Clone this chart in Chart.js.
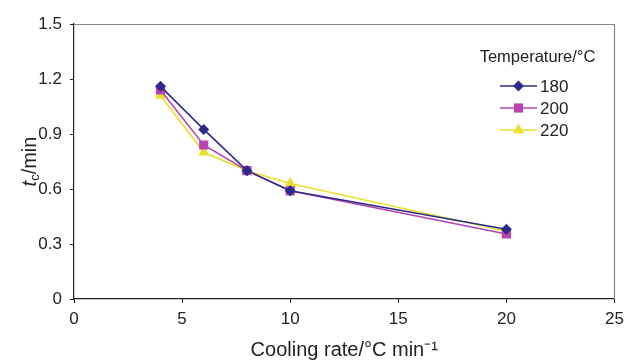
<!DOCTYPE html>
<html><head><meta charset="utf-8">
<script src="https://cdn.jsdelivr.net/npm/chart.js@4.4.1/dist/chart.umd.min.js"></script>
<style>html,body{margin:0;padding:0;background:#fff}#wrap{width:631px;height:362px}</style>
</head><body><div id="wrap"><canvas id="c" width="631" height="362"></canvas></div>
<script>
const coolingRates = [4, 6, 8, 10, 20];
const tc180 = [1.16, 0.925, 0.70, 0.59, 0.38];
const tc200 = [1.14, 0.84, 0.70, 0.59, 0.355];
const tc220 = [1.11, 0.80, 0.70, 0.63, 0.37];
const seriesLabels = ['180', '200', '220'];
const yTicks = [0, 0.3, 0.6, 0.9, 1.2, 1.5];
const xTicks = [0, 5, 10, 15, 20, 25];
const legendTitle = 'Temperature/°C';
const xTitle = 'Cooling rate/°C min⁻¹';

const FONT = '"Liberation Sans", Arial, sans-serif';
const colors = ['#2d2a8a', '#b843b0', '#e8e02a'];
const styles = ['rectRot', 'rect', 'triangle'];
const radii = [5.5, 6.5, 6.5];
const seriesData = [tc180, tc200, tc220];

const datasets = seriesData.map((arr, i) => ({
  label: seriesLabels[i],
  data: arr.map((v, j) => ({x: coolingRates[j], y: v})),
  borderColor: colors[i],
  backgroundColor: colors[i],
  borderWidth: 1.6,
  pointStyle: styles[i],
  pointRadius: radii[i],
  pointBorderWidth: 0,
  tension: 0
}));

const extras = {
  id: 'extras',
  afterDraw(chart) {
    const ctx = chart.ctx, a = chart.chartArea;
    ctx.save();
    ctx.strokeStyle = '#888';
    ctx.lineWidth = 1.2;
    ctx.beginPath();
    ctx.moveTo(a.left, a.top + 0.5); ctx.lineTo(a.right, a.top + 0.5); ctx.lineTo(a.right, a.bottom);
    ctx.stroke();
    ctx.fillStyle = '#222';
    ctx.translate(30, (a.top + a.bottom) / 2);
    ctx.rotate(-Math.PI / 2);
    ctx.textBaseline = 'middle';
    const f1 = 'italic 20px ' + FONT, f2 = '13px ' + FONT, f3 = '20px ' + FONT;
    ctx.font = f1; const w1 = ctx.measureText('t').width;
    ctx.font = f2; const w2 = ctx.measureText('c').width;
    ctx.font = f3; const w3 = ctx.measureText('/min').width;
    let x = -(w1 + w2 + w3) / 2;
    ctx.textAlign = 'left';
    ctx.font = f1; ctx.fillText('t', x, 0); x += w1;
    ctx.font = f2; ctx.fillText('c', x, 5); x += w2;
    ctx.font = f3; ctx.fillText('/min', x, 0);
    ctx.restore();
    ctx.save();
    ctx.fillStyle = '#222';
    ctx.font = '16.5px ' + FONT;
    ctx.textAlign = 'center';
    ctx.textBaseline = 'middle';
    ctx.fillText(legendTitle, 537.5, 57);
    const ys = [86, 108, 130];
    chart.data.datasets.forEach((ds, i) => {
      const y = ys[i];
      ctx.strokeStyle = ds.borderColor;
      ctx.lineWidth = 1.6;
      ctx.beginPath(); ctx.moveTo(500, y); ctx.lineTo(537, y); ctx.stroke();
      ctx.fillStyle = ds.backgroundColor;
      Chart.helpers.drawPoint(ctx, {pointStyle: ds.pointStyle, radius: ds.pointRadius, rotation: 0, borderWidth: 0}, 518.5, y);
      ctx.fillStyle = '#222';
      ctx.font = '17px ' + FONT;
      ctx.textAlign = 'left';
      ctx.fillText(ds.label, 540, y + 1);
    });
    ctx.restore();
  }
};

new Chart(document.getElementById('c'), {
  type: 'line',
  data: {datasets},
  options: {
    responsive: false,
    animation: false,
    devicePixelRatio: 1,
    layout: {padding: {top: 24, right: 16.5, left: 0, bottom: 0}},
    plugins: {legend: {display: false}, tooltip: {enabled: false}},
    scales: {
      x: {
        type: 'linear', min: 0, max: 25,
        afterBuildTicks: s => { s.ticks = xTicks.map(v => ({value: v})); },
        afterFit: s => { s.height = 63; },
        grid: {drawOnChartArea: false, tickLength: 4, color: '#222'},
        border: {color: '#222', width: 1.2},
        ticks: {font: {family: FONT, size: 17}, color: '#222', padding: 6, maxRotation: 0},
        title: {display: true, text: xTitle, font: {family: FONT, size: 20}, color: '#222', padding: {top: 0, bottom: 0}}
      },
      y: {
        type: 'linear', min: 0, max: 1.5,
        afterBuildTicks: s => { s.ticks = yTicks.map(v => ({value: v})); },
        afterFit: s => { s.width = 74; },
        grid: {drawOnChartArea: false, tickLength: 4, color: '#222'},
        border: {color: '#222', width: 1.2},
        ticks: {font: {family: FONT, size: 17}, color: '#222', padding: 8, callback: v => String(v)}
      }
    }
  },
  plugins: [extras]
});
</script></body></html>
